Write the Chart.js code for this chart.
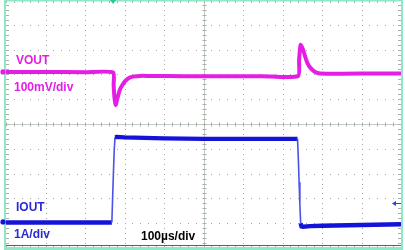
<!DOCTYPE html>
<html>
<head>
<meta charset="utf-8">
<script src="https://cdn.jsdelivr.net/npm/chart.js@4/dist/chart.umd.min.js"></script>
<style>
html,body{margin:0;padding:0;background:#fff;}
#wrap{width:405px;height:250px;position:relative;}
</style>
</head>
<body>
<div id="wrap"><canvas id="c" width="405" height="250"></canvas></div>
<script>
// ---- data (time in µs, 100 µs/div) ----
const vTime = [0, 100, 200, 271, 272.5, 274, 276, 278, 281, 285, 289, 295, 301, 308, 314, 325, 339, 360, 450, 550, 650, 739, 742, 744, 746, 749, 753, 757, 761, 765, 770, 776, 782, 795, 850, 950, 1000];
const vOut  = [0, 0, -1, -2, -52, -93, -121, -133, -113, -89, -69, -52, -38, -28, -22, -18, -16, -16, -17, -17, -17, -17, 48, 89, 109, 101, 85, 64, 44, 30, 18, 8, 0, -6, -7, -6, -6]; // mV
const iTime = [0, 150, 268, 270, 272, 274, 276, 280, 300, 400, 500, 600, 700, 738, 740, 742, 744, 746, 748, 752, 770, 800, 900, 1000];
const iOut  = [-0.02, -0.02, -0.02, 1.0, 2.0, 2.9, 3.42, 3.43, 3.41, 3.37, 3.35, 3.35, 3.35, 3.35, 2.6, 1.6, 0.7, -0.05, -0.18, -0.19, -0.17, -0.15, -0.12, -0.09]; // A
const triggerTime = 271;     // µs
const triggerLevel = 0.77;   // A
const labels = {vout: "VOUT", vdiv: "100mV/div", iout: "IOUT", idiv: "1A/div", tdiv: "100µs/div"};

const MAG = '#e41ee4';
const BLU = '#1414d8';
const FONT = 'bold 12px "Liberation Sans", Arial, sans-serif';

const scopePlugin = {
  id: 'scope',
  beforeDatasetsDraw(chart) {
    const ctx = chart.ctx, ca = chart.chartArea;
    const xs = chart.scales.x, yd = chart.scales.yDiv;
    ctx.save();
    // dotted grid
    ctx.fillStyle = '#a6a6a6';
    for (let i = 1; i < 10; i++) {
      if (i === 5) continue;
      const px = Math.round(xs.getPixelForValue(i * 100));
      for (let j = 0; j <= 50; j++) {
        const py = Math.round(yd.getPixelForValue(-5 + j * 0.2));
        ctx.fillRect(px, py, 1, 1);
      }
    }
    for (let k = -4; k <= 4; k++) {
      if (k === 0) continue;
      const py = Math.round(yd.getPixelForValue(k));
      for (let j = 0; j <= 50; j++) {
        const px = Math.round(xs.getPixelForValue(j * 20));
        ctx.fillRect(px, py, 1, 1);
      }
    }
    // center cross
    const cx = Math.round(xs.getPixelForValue(500)) + 0.5;
    const cy = Math.round(yd.getPixelForValue(0)) + 0.5;
    ctx.strokeStyle = '#c4cac4';
    ctx.lineWidth = 1;
    ctx.beginPath();
    ctx.moveTo(cx, ca.top); ctx.lineTo(cx, ca.bottom);
    ctx.moveTo(ca.left, cy); ctx.lineTo(ca.right, cy);
    ctx.stroke();
    ctx.strokeStyle = '#a8b0a8';
    ctx.beginPath();
    for (let j = 0; j <= 50; j++) {
      const py = Math.round(yd.getPixelForValue(-5 + j * 0.2)) + 0.5;
      ctx.moveTo(cx - 2, py); ctx.lineTo(cx + 2, py);
      ctx.moveTo(ca.left, py); ctx.lineTo(ca.left + 3, py);
      ctx.moveTo(ca.right, py); ctx.lineTo(ca.right - 3, py);
    }
    for (let j = 0; j <= 50; j++) {
      const px = Math.round(xs.getPixelForValue(j * 20)) + 0.5;
      ctx.moveTo(px, cy - 2); ctx.lineTo(px, cy + 2);
      ctx.moveTo(px, ca.top); ctx.lineTo(px, ca.top + 3);
      ctx.moveTo(px, ca.bottom); ctx.lineTo(px, ca.bottom - 3);
    }
    ctx.stroke();
    // frame
    ctx.strokeStyle = '#606060';
    ctx.beginPath();
    ctx.moveTo(ca.left, ca.bottom - 2.5); ctx.lineTo(ca.right, ca.bottom - 2.5);
    ctx.stroke();
    ctx.fillStyle = '#8ee8c6';
    ctx.fillRect(ca.left - 2, 0, 2, chart.height);
    ctx.fillRect(ca.right, 0, 2, chart.height);
    ctx.fillRect(ca.left - 2, 0, ca.right - ca.left + 4, 1.5);
    ctx.fillRect(ca.left - 2, ca.bottom - 1, ca.right - ca.left + 4, 3);
    ctx.restore();
  },
  afterDatasetsDraw(chart) {
    const ctx = chart.ctx, ca = chart.chartArea;
    const xs = chart.scales.x, yv = chart.scales.yV, yi = chart.scales.yI;
    ctx.save();
    // ground markers
    const gv = yv.getPixelForValue(0), gi = yi.getPixelForValue(0);
    ctx.fillStyle = MAG;
    ctx.beginPath(); ctx.arc(ca.left - 3, gv, 2.6, 0, Math.PI * 2); ctx.fill();
    ctx.fillStyle = BLU;
    ctx.beginPath(); ctx.arc(ca.left - 3, gi, 2.6, 0, Math.PI * 2); ctx.fill();
    // trigger position
    const tx = xs.getPixelForValue(triggerTime);
    ctx.fillStyle = '#2cc898';
    ctx.beginPath(); ctx.moveTo(tx - 3, 0); ctx.lineTo(tx + 3, 0); ctx.lineTo(tx, 4); ctx.closePath(); ctx.fill();
    // trigger level arrow
    const ty = Math.round(yi.getPixelForValue(triggerLevel)) + 0.5;
    ctx.strokeStyle = '#3040e0'; ctx.fillStyle = '#3040e0'; ctx.lineWidth = 1;
    ctx.beginPath(); ctx.moveTo(ca.right - 6, ty); ctx.lineTo(ca.right, ty); ctx.stroke();
    ctx.beginPath(); ctx.moveTo(ca.right - 9, ty); ctx.lineTo(ca.right - 5, ty - 2.5); ctx.lineTo(ca.right - 5, ty + 2.5); ctx.closePath(); ctx.fill();
    // labels
    ctx.font = FONT;
    ctx.textBaseline = 'alphabetic';
    ctx.fillStyle = MAG;
    ctx.fillText(labels.vout, 16, 64);
    ctx.fillText(labels.vdiv, 14, 91);
    ctx.fillStyle = '#2a2ad2';
    ctx.fillText(labels.iout, 16, 211);
    ctx.fillText(labels.idiv, 14, 238);
    ctx.fillStyle = '#000';
    ctx.fillText(labels.tdiv, 141, 240);
    ctx.restore();
  }
};

function steep(ctx, wThin, wThick) {
  const dy = Math.abs(ctx.p1.parsed.y - ctx.p0.parsed.y);
  const dx = Math.abs(ctx.p1.parsed.x - ctx.p0.parsed.x);
  return (dx <= 3 && dy > 0.3) ? wThin : wThick;
}

new Chart(document.getElementById('c'), {
  type: 'line',
  data: {
    datasets: [
      {
        label: 'VOUT',
        data: vTime.map((t, i) => ({x: t, y: vOut[i]})),
        yAxisID: 'yV',
        borderColor: MAG,
        borderWidth: 4,
        pointRadius: 0,
        tension: 0.2,
        fill: false
      },
      {
        label: 'IOUT',
        data: iTime.map((t, i) => ({x: t, y: iOut[i]})),
        yAxisID: 'yI',
        borderColor: BLU,
        borderWidth: 4.4,
        pointRadius: 0,
        tension: 0,
        fill: false,
        segment: {
          borderWidth: c => steep(c, 1.6, 4.4),
          borderColor: c => steep(c, '#4a52e8', BLU)
        }
      }
    ]
  },
  options: {
    responsive: false,
    animation: false,
    layout: {padding: {left: 6, right: 4, top: 0, bottom: 2}},
    plugins: {legend: {display: false}, tooltip: {enabled: false}},
    scales: {
      x: {type: 'linear', min: 0, max: 1000, display: false},
      yDiv: {type: 'linear', min: -5, max: 5, display: false},
      yV: {type: 'linear', min: -710, max: 290, display: false},
      yI: {type: 'linear', min: -1.05, max: 8.95, display: false}
    }
  },
  plugins: [scopePlugin]
});
</script>
</body>
</html>
